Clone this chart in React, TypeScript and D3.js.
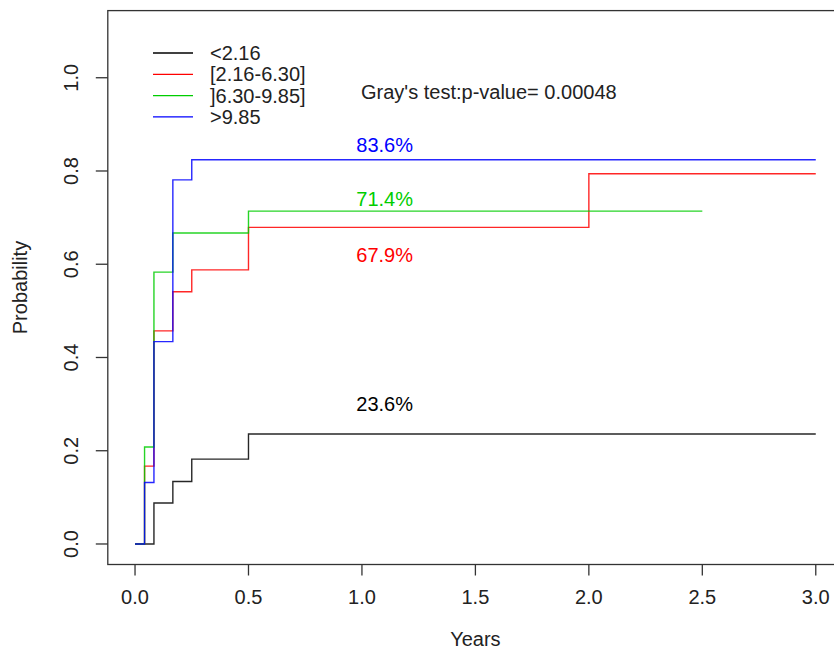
import React from "react";
import * as d3 from "d3";

const seriesNames = ["<2.16", "[2.16-6.30]", "]6.30-9.85]", ">9.85"];
const seriesColors = ["#000000", "#ff0000", "#00cd00", "#0000ff"];

const blackTimes = [0, 1 / 12, 2 / 12, 3 / 12, 0.5, 3.0];
const blackValues = [0, 0.088, 0.134, 0.182, 0.236, 0.236];

const redTimes = [0, 0.042, 1 / 12, 2 / 12, 3 / 12, 0.5, 2.0, 3.0];
const redValues = [0, 0.167, 0.457, 0.541, 0.588, 0.679, 0.794, 0.794];

const greenTimes = [0, 0.042, 1 / 12, 2 / 12, 0.5, 2.5];
const greenValues = [0, 0.208, 0.583, 0.667, 0.714, 0.714];

const blueTimes = [0, 0.042, 1 / 12, 2 / 12, 0.25, 3.0];
const blueValues = [0, 0.132, 0.434, 0.781, 0.824, 0.824];

const labelTexts = ["23.6%", "67.9%", "71.4%", "83.6%"];
const labelX = [1.1, 1.1, 1.1, 1.1];
const labelY = [0.3, 0.62, 0.74, 0.855];

const xTicks = [0, 0.5, 1.0, 1.5, 2.0, 2.5, 3.0];
const yTicks = [0, 0.2, 0.4, 0.6, 0.8, 1.0];

const pValueText = "Gray's test:p-value= 0.00048";

const FONT = "'Liberation Sans', Arial, sans-serif";

export default function App() {
  const W = 834;
  const H = 653;
  const x = d3.scaleLinear().domain([-0.12, 3.12]).range([107.8, 843]);
  const y = d3.scaleLinear().domain([-0.044, 1.144]).range([564.5, 10.6]);

  const series = [
    { t: blackTimes, v: blackValues },
    { t: redTimes, v: redValues },
    { t: greenTimes, v: greenValues },
    { t: blueTimes, v: blueValues },
  ];

  const line = d3
    .line<[number, number]>()
    .x((d) => x(d[0]))
    .y((d) => y(d[1]))
    .curve(d3.curveStepAfter);

  const left = x(-0.12);
  const right = x(3.12);
  const top = y(1.144);
  const bottom = y(-0.044);
  const fs = 20;

  return (
    <svg
      width={W}
      height={H}
      style={{ position: "absolute", left: 0, top: 0, background: "#fff" }}
      fontFamily={FONT}
    >
      <rect x={0} y={0} width={W} height={H} fill="#fff" />
      {series.map((s, i) => (
        <path
          key={i}
          d={line(s.t.map((t, j) => [t, s.v[j]] as [number, number])) || ""}
          fill="none"
          stroke={seriesColors[i]}
          strokeWidth={1.4}
          strokeOpacity={0.85}
        />
      ))}
      <rect
        x={left}
        y={top}
        width={right - left}
        height={bottom - top}
        fill="none"
        stroke="#333"
        strokeWidth={1.3}
      />
      {xTicks.map((t) => (
        <g key={"x" + t}>
          <line x1={x(t)} x2={x(t)} y1={bottom} y2={bottom + 11} stroke="#333" strokeWidth={1.3} />
          <text x={x(t)} y={604} textAnchor="middle" fontSize={fs} fill="#222">
            {t.toFixed(1)}
          </text>
        </g>
      ))}
      {yTicks.map((t) => (
        <g key={"y" + t}>
          <line x1={left - 12} x2={left} y1={y(t)} y2={y(t)} stroke="#333" strokeWidth={1.3} />
          <text
            transform={`translate(78,${y(t)}) rotate(-90)`}
            textAnchor="middle"
            fontSize={fs}
            fill="#222"
          >
            {t.toFixed(1)}
          </text>
        </g>
      ))}
      <text x={(left + right) / 2} y={646} textAnchor="middle" fontSize={fs} fill="#222">
        Years
      </text>
      <text
        transform={`translate(27,${(top + bottom) / 2}) rotate(-90)`}
        textAnchor="middle"
        fontSize={fs}
        fill="#222"
      >
        Probability
      </text>
      {seriesNames.map((n, i) => (
        <g key={n}>
          <line x1={153} x2={193} y1={53 + i * 21.3} y2={53 + i * 21.3} stroke={seriesColors[i]} strokeWidth={1.3} />
          <text x={210} y={53 + i * 21.3 + 7} fontSize={fs} fill="#222">
            {n}
          </text>
        </g>
      ))}
      <text x={361} y={99} fontSize={fs} fill="#222">
        {pValueText}
      </text>
      {labelTexts.map((l, i) => (
        <text
          key={l}
          x={x(labelX[i])}
          y={y(labelY[i]) + 7}
          textAnchor="middle"
          fontSize={fs}
          fill={seriesColors[i]}
        >
          {l}
        </text>
      ))}
    </svg>
  );
}
